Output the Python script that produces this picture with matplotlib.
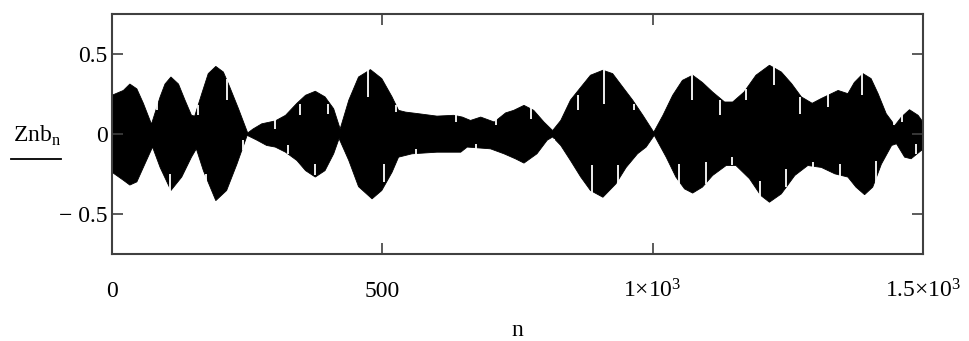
#!/usr/bin/env python3

'''
plot.py
  Redraws a Mathcad style trace of Znb_n against n (0 .. 1500).

  The signal oscillates far too fast to resolve at this size, so it
  is drawn as its black envelope band (read off the picture) with the
  thin white sampling gaps that show inside the band.
'''

#
#   Packages and modules
#
import matplotlib
matplotlib.use('Agg')
from matplotlib import pyplot as plt
from matplotlib.lines import Line2D


#
#   Data
#

# upper edge of the envelope
up_n = [0, 21, 33, 46, 58, 73, 89, 98, 109, 123, 135, 147, 153, 166, 178,
        192, 206, 218, 234, 251, 261, 277, 302, 321, 342, 358, 376, 394,
        410, 422, 438, 456, 478, 499, 518, 530, 543, 567, 601, 632, 648,
        663, 682, 707, 728, 743, 762, 780, 799, 815, 830, 848, 867, 885,
        908, 926, 945, 963, 982, 1002, 1019, 1037, 1055, 1074, 1092, 1111,
        1133, 1148, 1169, 1191, 1216, 1238, 1257, 1275, 1295, 1312, 1343,
        1361, 1373, 1389, 1404, 1417, 1432, 1448, 1460, 1475, 1491, 1500]
up_v = [0.24, 0.27, 0.31, 0.28, 0.19, 0.06, 0.23, 0.31, 0.354, 0.31,
        0.21, 0.115, 0.11, 0.25, 0.375, 0.42, 0.385, 0.29, 0.156, 0.005,
        0.03, 0.062, 0.08, 0.115, 0.19, 0.24, 0.265, 0.23, 0.156, 0.03,
        0.21, 0.354, 0.40, 0.344, 0.23, 0.146, 0.135, 0.125, 0.11, 0.115,
        0.104, 0.083, 0.104, 0.073, 0.13, 0.146, 0.177, 0.146, 0.073, 0.02,
        0.083, 0.21, 0.29, 0.365, 0.396, 0.375, 0.29, 0.21, 0.115, 0.01,
        0.115, 0.24, 0.333, 0.365, 0.32, 0.26, 0.198, 0.198, 0.26, 0.365,
        0.427, 0.385, 0.3125, 0.23, 0.19, 0.22, 0.27, 0.25, 0.32, 0.375,
        0.344, 0.25, 0.125, 0.052, 0.104, 0.15, 0.115, 0.073]

# lower edge of the envelope
lo_n = [0, 21, 33, 46, 58, 75, 89, 109, 129, 147, 156, 169, 192, 212, 231,
        250, 268, 286, 302, 321, 342, 358, 376, 394, 410, 420, 438, 456,
        481, 499, 518, 530, 555, 601, 645, 657, 700, 725, 746, 762, 786,
        805, 815, 830, 848, 867, 885, 908, 932, 951, 972, 988, 1003, 1025,
        1043, 1059, 1074, 1092, 1111, 1136, 1154, 1179, 1200, 1216, 1238,
        1263, 1287, 1312, 1337, 1361, 1376, 1392, 1407, 1423, 1442, 1451,
        1466, 1478, 1497, 1500]
lo_v = [-0.24, -0.29, -0.32, -0.30, -0.21, -0.083, -0.21, -0.354, -0.27,
        -0.146, -0.094, -0.23, -0.417, -0.354, -0.19, -0.01, -0.04, -0.073,
        -0.083, -0.115, -0.167, -0.23, -0.27, -0.23, -0.125, -0.03, -0.167,
        -0.33, -0.406, -0.354, -0.24, -0.146, -0.125, -0.115, -0.115,
        -0.083, -0.094, -0.125, -0.156, -0.183, -0.125, -0.04, -0.02,
        -0.073, -0.167, -0.27, -0.354, -0.396, -0.3125, -0.21, -0.125,
        -0.083, -0.01, -0.146, -0.27, -0.344, -0.37, -0.333, -0.26, -0.198,
        -0.198, -0.28, -0.385, -0.427, -0.375, -0.26, -0.198, -0.21, -0.25,
        -0.27, -0.333, -0.38, -0.333, -0.19, -0.073, -0.0625, -0.146,
        -0.156, -0.104, -0.10]

# thin white gaps inside the band: position and vertical extent
gap_n = [84, 108, 159, 174, 213, 242, 301, 325, 347, 375, 400, 473,
         504, 526, 562, 637, 674, 710, 775, 817, 861, 888, 910, 935,
         966, 1048, 1073, 1099, 1125, 1147, 1173, 1199, 1224, 1247,
         1273, 1297, 1324, 1347, 1387, 1413, 1447, 1462, 1487]
gap_top = [0.208, -0.25, 0.177, -0.25, 0.344, -0.042, 0.083, -0.073,
           0.187, -0.188, 0.187, 0.396, -0.188, 0.177, -0.094, 0.115,
           -0.063, 0.094, 0.167, -0.031, 0.24, -0.198, 0.396, -0.198,
           0.187, -0.188, 0.365, -0.177, 0.208, -0.146, 0.281, -0.292,
           0.417, -0.219, 0.229, -0.177, 0.25, -0.188, 0.385, -0.167,
           0.083, 0.135, -0.063]
gap_bottom = [0.146, -0.36, 0.115, -0.417, 0.208, -0.104, 0.031, -0.125,
              0.115, -0.26, 0.125, 0.229, -0.30, 0.135, -0.135, 0.073,
              -0.104, 0.052, 0.094, -0.083, 0.146, -0.375, 0.187,
              -0.396, 0.146, -0.333, 0.208, -0.313, 0.115, -0.198,
              0.208, -0.406, 0.302, -0.333, 0.125, -0.208, 0.167,
              -0.271, 0.24, -0.313, 0.052, 0.073, -0.125]

x_ticks = [0, 500, 1000, 1500]
x_tick_labels = ['0', '500', r'$\mathregular{1{\times}10^{3}}$',
                 r'$\mathregular{1.5{\times}10^{3}}$']
y_ticks = [-0.5, 0, 0.5]
y_tick_labels = ['\u2212 0.5', '0', '0.5']


#
#   Functions
#

def draw_chart(output_png):
    '''
    Draw the envelope band, the gaps and the Mathcad style labels,
    then save the figure.
    '''

    plt.rcParams['font.family'] = 'Liberation Serif'
    plt.rcParams['mathtext.fontset'] = 'custom'
    plt.rcParams['mathtext.rm'] = 'Liberation Serif'

    fig = plt.figure(figsize=(9.7, 3.41), dpi=100)
    ax = fig.add_axes([112 / 970, 1 - 254 / 341,
                       811 / 970, 240.5 / 341])

    # The oscillating trace, shown as its filled envelope:
    # upper edge left to right, then lower edge back again
    ax.fill(up_n + lo_n[::-1], up_v + lo_v[::-1],
            color='black', linewidth=0.6)

    # White sampling gaps
    ax.vlines(gap_n, gap_bottom, gap_top, color='white', linewidth=1.3)

    ax.set_xlim(0, 1500)
    ax.set_ylim(-0.75, 0.75)

    # Ticks on all four sides, pointing in
    ax.set_xticks(x_ticks)
    ax.set_xticklabels(x_tick_labels, fontsize=17)
    ax.set_yticks(y_ticks)
    ax.set_yticklabels(y_tick_labels, fontsize=17)
    ax.tick_params(direction='in', length=8, width=1.2,
                   color='#404040', top=True, right=True)
    ax.tick_params(axis='x', pad=31)
    ax.tick_params(axis='y', pad=3)
    plt.setp(ax.get_xticklabels(), va='baseline')

    for spine in ax.spines.values():
        spine.set_color('#404040')
        spine.set_linewidth(1.5)
        spine.set_zorder(5)

    # Axis names, Mathcad style
    fig.text(517 / 970, 1 - 330 / 341, 'n', fontsize=17,
             ha='center', va='center')
    fig.text(13 / 970, 1 - 142 / 341, r'Znb$_{\mathregular{n}}$',
             fontsize=17, ha='left', va='baseline')

    # Trace legend line under the y name
    fig.add_artist(Line2D([11 / 970, 61 / 970], [1 - 159 / 341] * 2,
                          color='black', linewidth=1.3))

    fig.savefig(output_png, dpi=100)
    plt.close(fig)

    #
    #   End of Function
    #


def main():
    '''
    Main function in the script.
    '''
    draw_chart('out.png')

    #
    #   End of Function
    #


if __name__ == "__main__":
    main()


#
#   End of Script
#
